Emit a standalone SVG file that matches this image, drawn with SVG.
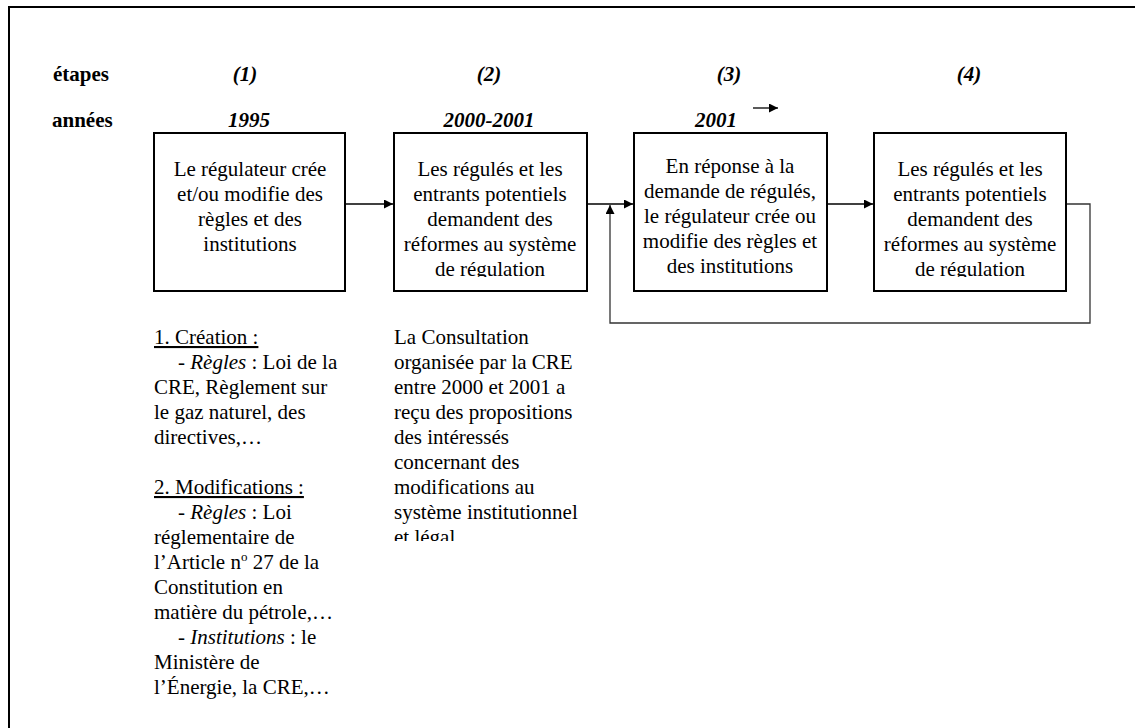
<svg xmlns="http://www.w3.org/2000/svg" width="1135" height="728" viewBox="0 0 1135 728">
<style>
  text { font-family: "Liberation Serif", "Times New Roman", serif; font-size: 21px; fill: #000; }
  .hdr { font-weight: bold; }
  .bi { font-weight: bold; font-style: italic; }
  .c { text-anchor: middle; }
  .box { fill: #fff; stroke: #000; stroke-width: 2; }
  .conn { fill: none; stroke: #000; stroke-width: 1.3; }
  .fb { fill: none; stroke: #333; stroke-width: 1.3; }
  .u { text-decoration: underline; }
  .it { font-style: italic; }
</style>
<defs>
  <marker id="arr" viewBox="0 0 10 10" refX="10" refY="5" markerWidth="10" markerHeight="9" markerUnits="userSpaceOnUse" orient="auto">
    <path d="M0,0 L10,5 L0,10 z" fill="#000"/>
  </marker>
  <clipPath id="clipB2"><rect x="394" y="133" width="193" height="144"/></clipPath>
  <clipPath id="clipB4"><rect x="874" y="133" width="192" height="144"/></clipPath>
  <clipPath id="clipCol2"><rect x="380" y="320" width="230" height="221"/></clipPath>
</defs>
<rect width="1135" height="728" fill="#fff"/>
<path d="M9,728 L9,7 L1135,7" fill="none" stroke="#000" stroke-width="2"/>

<g id="headers">
  <text class="hdr" x="53" y="81">étapes</text>
  <text class="hdr" x="52" y="127">années</text>
  <text class="bi c" x="245" y="81">(1)</text>
  <text class="bi c" x="489" y="81">(2)</text>
  <text class="bi c" x="729" y="81">(3)</text>
  <text class="bi c" x="969" y="81">(4)</text>
  <text class="bi c" x="249" y="127">1995</text>
  <text class="bi c" x="489" y="127">2000-2001</text>
  <text class="bi" x="695" y="127">2001</text>
</g>

<g id="connectors">
  <line class="conn" x1="346" y1="204" x2="393" y2="204" marker-end="url(#arr)"/>
  <line class="conn" x1="587" y1="204" x2="633" y2="204" marker-end="url(#arr)"/>
  <line class="conn" x1="827" y1="204" x2="873" y2="204" marker-end="url(#arr)"/>
  <path class="fb" d="M1066,204 L1090,204 L1090,323 L610,323 L610,205" marker-end="url(#arr)"/>
  <line class="conn" x1="753" y1="108" x2="778" y2="108" marker-end="url(#arr)"/>
</g>

<g id="node1">
  <rect class="box" x="154" y="133" width="191" height="158"/>
  <text class="c" x="250" y="176">Le régulateur crée</text>
  <text class="c" x="250" y="201">et/ou modifie des</text>
  <text class="c" x="250" y="226">règles et des</text>
  <text class="c" x="250" y="251">institutions</text>
</g>

<g id="node2">
  <rect class="box" x="394" y="133" width="193" height="158"/>
  <g clip-path="url(#clipB2)">
    <text class="c" x="490" y="176">Les régulés et les</text>
    <text class="c" x="490" y="201">entrants potentiels</text>
    <text class="c" x="490" y="226">demandent des</text>
    <text class="c" x="490" y="251">réformes au système</text>
    <text class="c" x="490" y="276">de régulation</text>
  </g>
</g>

<g id="node3">
  <rect class="box" x="634" y="133" width="193" height="158"/>
  <text class="c" x="730" y="173">En réponse à la</text>
  <text class="c" x="730" y="198">demande de régulés,</text>
  <text class="c" x="730" y="223">le régulateur crée ou</text>
  <text class="c" x="730" y="248">modifie des règles et</text>
  <text class="c" x="730" y="273">des institutions</text>
</g>

<g id="node4">
  <rect class="box" x="874" y="133" width="192" height="158"/>
  <g clip-path="url(#clipB4)">
    <text class="c" x="970" y="176">Les régulés et les</text>
    <text class="c" x="970" y="201">entrants potentiels</text>
    <text class="c" x="970" y="226">demandent des</text>
    <text class="c" x="970" y="251">réformes au système</text>
    <text class="c" x="970" y="276">de régulation</text>
  </g>
</g>

<g id="notes1">
  <text class="u" x="154" y="344">1. Création :</text>
  <text x="178" y="369"><tspan>- </tspan><tspan class="it">Règles</tspan><tspan> : Loi de la</tspan></text>
  <text x="154" y="394">CRE, Règlement sur</text>
  <text x="154" y="419">le gaz naturel, des</text>
  <text x="154" y="444">directives,…</text>
  <text class="u" x="154" y="494">2. Modifications :</text>
  <text x="178" y="519"><tspan>- </tspan><tspan class="it">Règles</tspan><tspan> : Loi</tspan></text>
  <text x="154" y="544">réglementaire de</text>
  <text x="154" y="569">l’Article n<tspan font-size="13" dy="-8">o</tspan><tspan dy="8"> 27 de la</tspan></text>
  <text x="154" y="594">Constitution en</text>
  <text x="154" y="619">matière du pétrole,…</text>
  <text x="178" y="644"><tspan>- </tspan><tspan class="it">Institutions</tspan><tspan> : le</tspan></text>
  <text x="154" y="669">Ministère de</text>
  <text x="154" y="694">l’Énergie, la CRE,…</text>
</g>

<g id="notes2" clip-path="url(#clipCol2)">
  <text x="394" y="344">La Consultation</text>
  <text x="394" y="369">organisée par la CRE</text>
  <text x="394" y="394">entre 2000 et 2001 a</text>
  <text x="394" y="419">reçu des propositions</text>
  <text x="394" y="444">des intéressés</text>
  <text x="394" y="469">concernant des</text>
  <text x="394" y="494">modifications au</text>
  <text x="394" y="519">système institutionnel</text>
  <text x="394" y="544">et légal</text>
</g>
</svg>
